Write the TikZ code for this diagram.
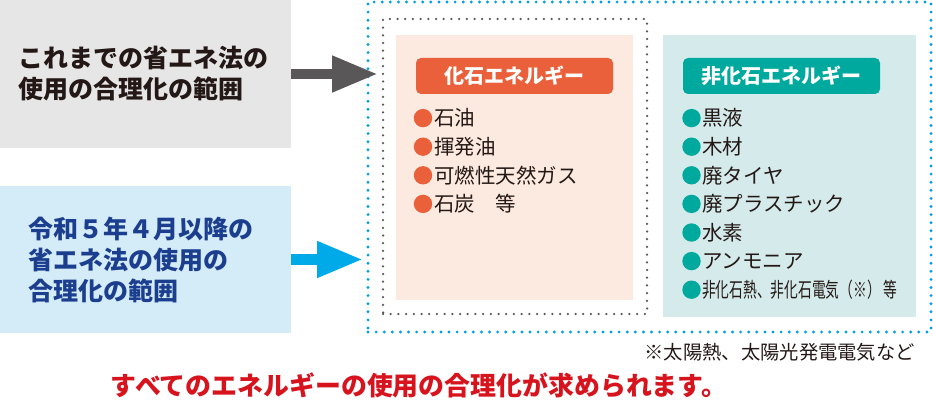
\documentclass[tikz,border=0pt]{standalone}
\usepackage{fontspec}
\setmainfont{Noto Sans CJK JP}
\usepackage{xcolor}
\usetikzlibrary{arrows.meta}
\definecolor{grayfill}{HTML}{E6E6E6}
\definecolor{bluefill}{HTML}{D4EBF8}
\definecolor{txtdark}{HTML}{231815}
\definecolor{txtblue}{HTML}{1B3F8E}
\definecolor{arrgray}{HTML}{595757}
\definecolor{arrblue}{HTML}{00A9E8}
\definecolor{dotblue}{HTML}{00A0E9}
\definecolor{dotgray}{HTML}{595757}
\definecolor{peach}{HTML}{FCE9DF}
\definecolor{fossil}{HTML}{EA603B}
\definecolor{paleteal}{HTML}{D5EBEB}
\definecolor{nonfossil}{HTML}{00A99D}
\definecolor{msgred}{HTML}{D7141E}

\begin{document}
\begin{tikzpicture}[x=1pt,y=-1pt,
  box/.style={anchor=north west,inner sep=0pt,outer sep=0pt},
  bluedots/.style={draw=dotblue,line width=3.2pt,dash pattern=on 0pt off 8.1pt,line cap=round},
  graydots/.style={draw=dotgray,line width=2.5pt,dash pattern=on 0pt off 7.7pt,line cap=round},
  head/.style={box,rounded corners=5pt,minimum width=197pt,minimum height=36pt,text=white,font=\fontsize{20}{20}\bfseries\selectfont},
  item/.style={anchor=west,inner sep=0pt,font=\fontsize{20.5}{20.5}\selectfont,text=txtdark},
  fat/.style={line width=10.5pt,-{Triangle[length=46pt,width=34pt]}}]
 \useasboundingbox (0,0) rectangle (933,414);

 %% left side
 \node[box,fill=grayfill,minimum width=291pt,minimum height=148pt,text width=255pt,align=left,
   text=txtdark,font=\fontsize{25}{31}\bfseries\selectfont] (oldscope) at (0,0)
   {これまでの省エネ法の\\使用の合理化の範囲};
 \node[box,fill=bluefill,minimum width=291pt,minimum height=147pt,text width=235pt,align=left,
   text=txtblue,font=\fontsize{25}{31}\bfseries\selectfont] (newscope) at (0,186)
   {令和５年４月以降の\\省エネ法の使用の\\合理化の範囲};

 %% frames
 \node[box,bluedots,minimum width=563pt,minimum height=330pt] (allframe) at (368,2) {};
 \node[box,graydots,minimum width=264pt,minimum height=295pt] (fossilframe) at (383,19) {};
 \node[box,fill=peach,minimum width=237pt,minimum height=265pt] (fossilbox) at (396,35) {};
 \node[box,fill=paleteal,minimum width=253pt,minimum height=282pt] (nonfossilbox) at (663,35) {};

 \draw[fat,draw=arrgray] (oldscope.east) -- ([xshift=-5pt]oldscope.east -| fossilframe.west);
 \draw[fat,draw=arrblue] (newscope.east) -- ([xshift=-5pt]newscope.east -| allframe.west);

 %% fossil
 \node[head,fill=fossil] (fossilhead) at (416,58) {化石エネルギー};
 \foreach \t [count=\i] in {石油,揮発油,可燃性天然ガス,石炭\quad 等}{
   \path[fill=fossil] (423,89.5+28.6*\i) circle (9.2pt);
   \node[item] (fos\i) at (434,89.5+28.6*\i) {\t};
 }

 %% non-fossil
 \node[head,fill=nonfossil] (nonfossilhead) at (683,58) {非化石エネルギー};
 \foreach \t [count=\i] in {黒液,木材,廃タイヤ,廃プラスチック,水素,アンモニア,
     {\scalebox{0.67}[1]{非化石熱、非化石電気（※）\ 等}}}{
   \path[fill=nonfossil] (691.5,89.5+28.6*\i) circle (9.2pt);
   \node[item] (nfos\i) at (702,89.5+28.6*\i) {\t};
 }

 %%%%%%%%%%%%%%%%%%%%%%%%%%%%%%%%%%%
 \node[anchor=east,inner sep=0pt,font=\fontsize{19.3}{19.3}\selectfont,text=txtdark] (note)
   at (915,352) {※太陽熱、太陽光発電電気など};
 \node[inner sep=0pt,font=\fontsize{25.9}{25.9}\bfseries\selectfont,text=msgred] (msg)
   at (419,385) {すべてのエネルギーの使用の合理化が求められます。};
\end{tikzpicture}
\end{document}
